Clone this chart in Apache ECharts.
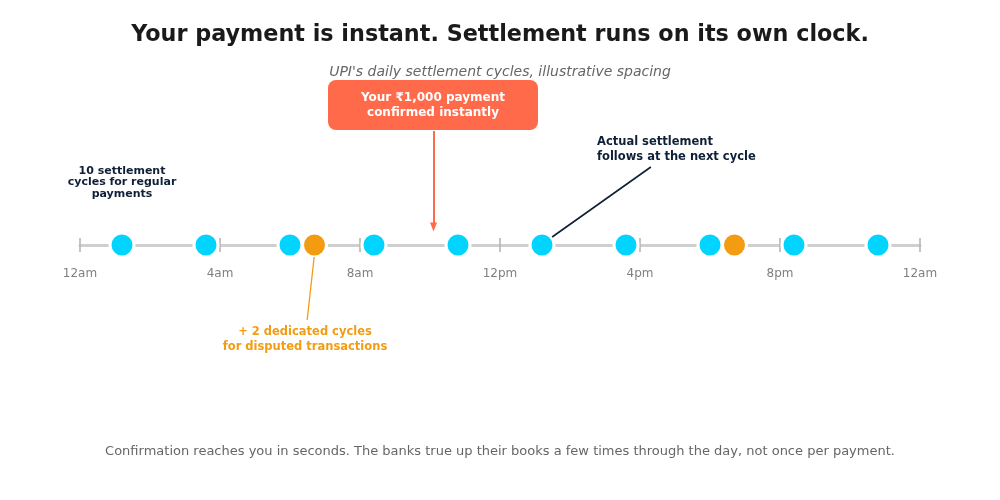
<!DOCTYPE html>
<html>
<head>
<meta charset="utf-8">
<script src="https://cdn.jsdelivr.net/npm/echarts@6/dist/echarts.min.js"></script>
<style>
  html, body { margin: 0; padding: 0; background: #fff; }
  #chart { width: 1000px; height: 500px; }
</style>
</head>
<body>
<div id="chart"></div>
<script>
// hours of the day (0 = midnight)
const tickHours = [0, 4, 8, 12, 16, 20, 24];
const tickLabels = ['12am', '4am', '8am', '12pm', '4pm', '8pm', '12am'];
const regularCycles = [1.2, 3.6, 6.0, 8.4, 10.8, 13.2, 15.6, 18.0, 20.4, 22.8];
const disputeCycles = [6.7, 18.7];
const paymentHour = 10.1;
const settleHour = 13.2;

const font = 'DejaVu Sans';
const navy = '#0f1f38';
const orange = '#F39C12';
const coral = '#FF6B4A';
const cyan = '#00D4FF';

const chart = echarts.init(document.getElementById('chart'));

// y value = pixel offset above the timeline
var option = {
  animation: false,
  textStyle: { fontFamily: font },
  title: [{
    text: 'Your payment is instant. Settlement runs on its own clock.',
    left: 'center', top: 19,
    textStyle: { fontSize: 22.3, fontWeight: 'bold', color: '#1a1a1a', fontFamily: font }
  }, {
    text: "UPI's daily settlement cycles, illustrative spacing",
    left: 'center', top: 60,
    textStyle: { fontSize: 14, fontWeight: 'normal', fontStyle: 'italic', color: '#666', fontFamily: font }
  }, {
    text: 'Confirmation reaches you in seconds. The banks true up their books a few times through the day, not once per payment.',
    left: 'center', top: 440,
    textStyle: { fontSize: 13, fontWeight: 'normal', color: '#666', fontFamily: font }
  }],
  grid: { left: 80, right: 80, top: 0, bottom: 0, outerBoundsMode: 'none', containLabel: false },
  xAxis: {
    type: 'value', min: 0, max: 24, interval: 4,
    axisLine: { onZero: true, lineStyle: { color: '#cfcfcf', width: 3 } },
    axisTick: { show: false },
    splitLine: { show: false },
    axisLabel: { show: false }
  },
  yAxis: { type: 'value', min: -255, max: 245, show: false, splitLine: { show: false } },
  series: [{
    // tick marks across the line, with hour labels underneath
    type: 'scatter', silent: true, z: 2,
    symbol: 'rect', symbolSize: [2, 14],
    itemStyle: { color: '#b5b5b5' },
    label: {
      show: true, position: 'bottom', distance: 16,
      fontSize: 12, color: '#5f5f5f', fontFamily: font,
      formatter: p => tickLabels[p.dataIndex]
    },
    data: tickHours.map(h => [h, 0])
  }, {
    name: 'regular', type: 'scatter', silent: true, z: 3,
    symbolSize: 24,
    itemStyle: { color: cyan, borderColor: '#fff', borderWidth: 3, opacity: 1 },
    data: regularCycles.map(h => [h, 0]),
    markLine: {
      silent: true, symbol: ['none', 'none'], label: { show: false },
      lineStyle: { color: navy, width: 1.6, type: 'solid' },
      data: [[{ coord: [settleHour + 0.29, 8] }, { coord: [16.31, 78] }]]
    }
  }, {
    name: 'disputed', type: 'scatter', silent: true, z: 3,
    symbolSize: 24,
    itemStyle: { color: orange, borderColor: '#fff', borderWidth: 3, opacity: 1 },
    data: disputeCycles.map(h => [h, 0]),
    markLine: {
      silent: true, symbol: ['none', 'none'], label: { show: false },
      lineStyle: { color: orange, width: 1.3, type: 'solid' },
      data: [[{ coord: [disputeCycles[0] - 0.01, -12] }, { coord: [6.49, -75] }]]
    }
  }, {
    name: 'payment', type: 'scatter', silent: true,
    symbolSize: 0, data: [[paymentHour, 18]],
    markLine: {
      silent: true, symbol: ['none', 'triangle'], symbolSize: [7, 9],
      label: { show: false },
      lineStyle: { color: coral, width: 2, type: 'solid' },
      data: [[{ coord: [paymentHour, 114] }, { coord: [paymentHour, 18] }]]
    }
  }],
  graphic: [{
    type: 'rect', x: 328, y: 80, z: 10,
    shape: { width: 210, height: 50, r: 8 },
    style: { fill: coral }
  }, {
    type: 'text', x: 433, y: 90, z: 11,
    style: {
      text: 'Your \u20b91,000 payment\nconfirmed instantly',
      fill: '#fff', font: 'bold 12px "DejaVu Sans"', align: 'center', verticalAlign: 'top', lineHeight: 15
    }
  }, {
    type: 'text', x: 122, y: 165,
    style: {
      text: '10 settlement\ncycles for regular\npayments',
      fill: navy, font: 'bold 11px "DejaVu Sans"', align: 'center', verticalAlign: 'top', lineHeight: 11.5
    }
  }, {
    type: 'text', x: 597, y: 135,
    style: {
      text: 'Actual settlement\nfollows at the next cycle',
      fill: navy, font: 'bold 11.5px "DejaVu Sans"', verticalAlign: 'top', lineHeight: 15
    }
  }, {
    type: 'text', x: 305, y: 325,
    style: {
      text: '+ 2 dedicated cycles\nfor disputed transactions',
      fill: orange, font: 'bold 11.5px "DejaVu Sans"', align: 'center', verticalAlign: 'top', lineHeight: 15
    }
  }]
};
chart.setOption(option);
</script>
</body>
</html>
